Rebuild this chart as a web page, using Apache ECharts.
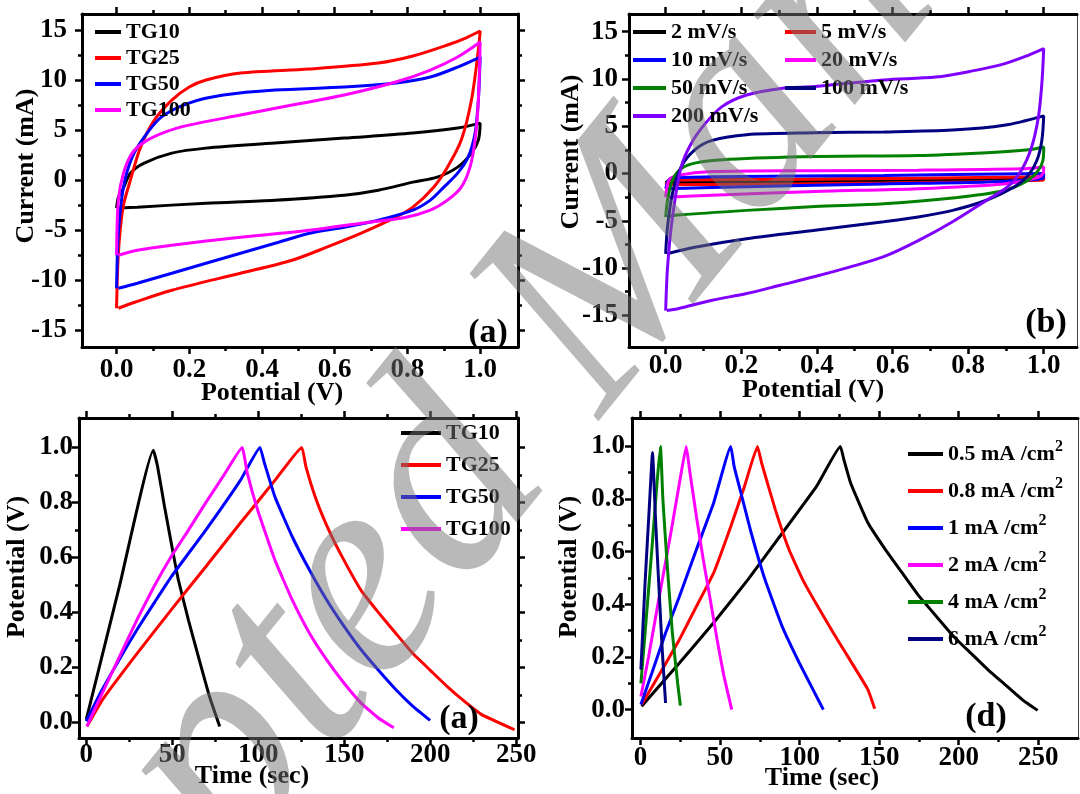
<!DOCTYPE html>
<html>
<head>
<meta charset="utf-8">
<title>CV and GCD curves</title>
<script src="https://cdn.jsdelivr.net/npm/echarts@6/dist/echarts.min.js"></script>
<style>
  html, body { margin: 0; padding: 0; background: #fff; }
  #chart { width: 1080px; height: 794px; }
</style>
</head>
<body>
<div id="chart"></div>
<script>
// (a) CV, TG samples : [potential (V), current (mA)], forward sweep then back
var cvTG10 = [[0,-2.8],[0.005,-1.7],[0.02,-0.7],[0.038,0.7],[0.076,1.7],[0.152,2.7],[0.246,3.2],[0.436,3.7],[0.626,4.2],[0.815,4.7],[0.938,5.2],[1.0,5.7],
  [0.995,4.0],[0.976,2.7],[0.938,1.3],[0.882,0.3],[0.815,-0.2],[0.72,-1.0],[0.626,-1.5],[0.436,-2.0],[0.246,-2.3],[0.057,-2.7],[0.005,-2.8]];
var cvTG25 = [[0,-12.8],[0.004,-8],[0.01,-5],[0.019,-2.5],[0.038,0],[0.066,3.3],[0.104,6],[0.152,8],[0.2,9.3],[0.246,10],[0.341,10.7],[0.53,11.1],[0.72,11.7],[0.815,12.4],[0.91,13.5],[0.96,14.2],[1.0,14.9],
  [0.995,13],[0.976,8],[0.948,4],[0.91,1.3],[0.872,-0.7],[0.815,-2.7],[0.768,-3.7],[0.673,-5.3],[0.578,-6.7],[0.483,-8],[0.341,-9.3],[0.152,-11],[0.05,-12.2],[0.005,-12.8]];
var cvTG50 = [[0,-10.8],[0.005,-5.3],[0.019,-0.7],[0.043,2.3],[0.076,4.3],[0.123,6.3],[0.199,7.7],[0.294,8.5],[0.436,9.0],[0.626,9.3],[0.768,9.7],[0.863,10.3],[0.938,11.3],[1.0,12.3],
  [0.995,8],[0.986,4.7],[0.967,2.3],[0.938,0.7],[0.9,-0.7],[0.863,-2],[0.815,-3],[0.72,-4],[0.626,-4.7],[0.531,-5.3],[0.436,-6.3],[0.341,-7.3],[0.246,-8.3],[0.152,-9.3],[0.057,-10.3],[0.005,-10.8]];
var cvTG100 = [[0,-7.5],[0.005,-2],[0.019,0.7],[0.043,2.7],[0.076,3.8],[0.133,4.8],[0.199,5.5],[0.341,6.5],[0.483,7.5],[0.626,8.5],[0.768,9.8],[0.863,11],[0.938,12.3],[1.0,13.8],
  [0.995,8],[0.986,4],[0.972,1.3],[0.948,-0.7],[0.91,-2],[0.863,-3],[0.796,-3.7],[0.673,-4.3],[0.531,-5],[0.341,-5.7],[0.152,-6.5],[0.057,-7],[0.005,-7.5]];

// (b) CV at different scan rates
var cv2 = [[0,-1.0],[0.014,-0.7],[1.0,-0.5],[0.998,-0.65],[0.003,-1.0]];
var cv5 = [[0,-1.2],[0.014,-0.7],[0.395,-0.6],[1.0,-0.35],[0.998,-0.7],[0.577,-1.0],[0.003,-1.2]];
var cv10 = [[0,-1.6],[0.014,-0.5],[0.123,-0.35],[0.577,-0.2],[1.0,0],[0.998,-0.5],[0.85,-0.9],[0.577,-1.1],[0.214,-1.4],[0.003,-1.6]];
var cv20 = [[0,-2.5],[0.009,-0.7],[0.032,-0.2],[0.123,0.2],[0.395,0.3],[0.668,0.35],[0.941,0.5],[1.0,0.7],
  [0.998,0],[0.977,-0.5],[0.895,-1.1],[0.668,-1.6],[0.395,-1.9],[0.123,-2.3],[0.003,-2.5]];
var cv50 = [[0,-4.6],[0.005,-2.8],[0.018,-0.7],[0.041,0.5],[0.077,1.1],[0.168,1.5],[0.395,1.8],[0.668,1.9],[0.85,2.2],[0.959,2.5],[1.0,2.8],
  [0.998,1.4],[0.986,0.35],[0.959,-0.7],[0.895,-1.8],[0.759,-2.6],[0.577,-3.2],[0.395,-3.5],[0.214,-3.9],[0.032,-4.4],[0.003,-4.6]];
var cv100 = [[0,-8.5],[0.005,-5.6],[0.018,-2.1],[0.041,0.7],[0.077,2.5],[0.123,3.5],[0.214,4.1],[0.395,4.3],[0.577,4.4],[0.759,4.6],[0.895,5.1],[1.0,6.1],
  [0.995,3.5],[0.982,1.4],[0.959,-0.2],[0.923,-1.4],[0.85,-2.8],[0.759,-3.9],[0.668,-4.6],[0.577,-5.1],[0.395,-6.0],[0.214,-6.9],[0.077,-7.8],[0.003,-8.5]];
var cv200 = [[0,-14.5],[0.005,-9.9],[0.018,-4.6],[0.041,0.7],[0.068,3.2],[0.105,5.3],[0.15,7.1],[0.214,8.3],[0.305,9.0],[0.395,9.2],[0.577,9.9],[0.714,10.2],[0.805,10.8],[0.895,11.6],[0.959,12.5],[1.0,13.2],
  [0.995,9.5],[0.986,6],[0.968,2.8],[0.941,0.35],[0.905,-1.4],[0.85,-2.8],[0.759,-5.1],[0.668,-7.1],[0.577,-8.8],[0.486,-9.9],[0.395,-10.9],[0.305,-11.8],[0.214,-12.7],[0.123,-13.4],[0.032,-14.3],[0.003,-14.5]];

// (c) charge-discharge, TG samples : [time (s), potential (V)]
var gcdTG10 = [[0,0.01],[19.5,0.5],[39,0.99],[41.5,0.93],[45.5,0.785],[49.5,0.65],[53.5,0.52],[59.5,0.37],[65.6,0.23],[71.6,0.095],[77.6,-0.015]];
var gcdTG25 = [[0.4,-0.015],[9.4,0.082],[29.5,0.25],[49.5,0.41],[69.6,0.567],[89.6,0.725],[109.7,0.88],[125.3,1.0],[127.7,0.93],[133.7,0.81],[141.7,0.69],[149.8,0.59],[159.8,0.48],[169.8,0.4],[179.8,0.325],[189.9,0.25],[199.9,0.19],[209.9,0.13],[219.9,0.076],[229.9,0.028],[249,-0.027]];
var gcdTG50 = [[0,0.004],[9.4,0.12],[29.5,0.337],[49.5,0.53],[69.6,0.7],[89.6,0.88],[101,1.0],[103.6,0.943],[109.7,0.82],[119.7,0.676],[129.7,0.555],[139.7,0.446],[149.8,0.35],[159.8,0.264],[169.8,0.19],[179.8,0.12],[189.9,0.058],[199.9,0.007]];
var gcdTG100 = [[0.4,-0.015],[9.4,0.107],[19.4,0.24],[29.5,0.373],[39.5,0.495],[49.5,0.604],[59.5,0.7],[69.6,0.8],[79.6,0.895],[90.6,1.0],[93.6,0.907],[99.6,0.773],[109.7,0.59],[119.7,0.446],[129.7,0.325],[139.7,0.228],[149.8,0.143],[159.8,0.07],[169.8,0.016],[178.8,-0.02]];

// (d) charge-discharge at different current densities
var gcd05 = [[0.65,0.013],[24.4,0.177],[45.9,0.33],[67.5,0.494],[89,0.67],[110.6,0.848],[125.6,1.0],[127.8,0.95],[132.1,0.86],[142.9,0.71],[153.7,0.61],[164.4,0.52],[175.2,0.43],[186,0.354],[196.8,0.278],[207.5,0.215],[218.3,0.152],[229.1,0.095],[239.9,0.038],[249.6,-0.003]];
var gcd08 = [[0.65,0.019],[13.6,0.152],[24.4,0.266],[35.1,0.392],[45.9,0.519],[56.7,0.696],[65.3,0.848],[73.5,1.0],[76.1,0.937],[84.7,0.76],[93.3,0.608],[101.9,0.494],[110.6,0.4],[121.3,0.29],[132.1,0.184],[142.9,0.076],[147.2,0.003]];
var gcd1 = [[0.2,0.019],[7.1,0.139],[15.7,0.291],[24.4,0.43],[35.1,0.608],[45.9,0.785],[56.7,1.0],[58.8,0.924],[63.1,0.823],[69.6,0.67],[78.2,0.494],[89,0.316],[99.8,0.177],[108.4,0.076],[114.9,0.0]];
var gcd2 = [[0.2,0.05],[5,0.2],[11.4,0.418],[17.9,0.633],[24.4,0.86],[28.7,1.0],[30.8,0.91],[35.1,0.734],[39.4,0.57],[43.8,0.418],[48.1,0.266],[52.4,0.127],[57.3,0.0]];
var gcd4 = [[0.2,0.1],[2.8,0.29],[7.1,0.61],[10.3,0.86],[12.5,1.0],[14,0.8],[16.8,0.544],[20,0.29],[23.3,0.1],[25,0.015]];
var gcd6 = [[0.2,0.152],[2.8,0.48],[5.4,0.76],[7.5,0.977],[9.3,0.734],[11.4,0.48],[13.6,0.228],[15.7,0.025]];

// legend names
var tgNames = ['TG10', 'TG25', 'TG50', 'TG100'];
var rateNames = ['2 mV/s', '5 mV/s', '10 mV/s', '20 mV/s', '50 mV/s', '100 mV/s', '200 mV/s'];
var densityNames = ['0.5 mA /cm2', '0.8 mA /cm2', '1 mA /cm2', '2 mA /cm2', '4 mA /cm2', '6 mA /cm2'];

// ticks
var cvXMajor = [0, 0.2, 0.4, 0.6, 0.8, 1.0];
var cvXMinor = [0.1, 0.3, 0.5, 0.7, 0.9];
var cvYMajor = [-15, -10, -5, 0, 5, 10, 15];
var cvYMinor = [-12.5, -7.5, -2.5, 2.5, 7.5, 12.5];
var tXMajor = [0, 50, 100, 150, 200, 250];
var tXMinor = [25, 75, 125, 175, 225];
var vYMajor = [0, 0.2, 0.4, 0.6, 0.8, 1.0];
var vYMinor = [0.1, 0.3, 0.5, 0.7, 0.9];

var FONT = '"Liberation Serif", "Times New Roman", serif';
var xAxes = [], yAxes = [], series = [];

function fixed1(v) { return v.toFixed(1); }
function plain(v) { return String(v); }

// four axes per direction: main, minor ticks, opposite main, opposite minor
function addFrame(gi, xr, yr, xMaj, xMin, yMaj, yMin, xFmt, yFmt, xMargin, yMargin, thinRight) {
  var thick = {show: true, onZero: false, lineStyle: {color: '#000', width: 3}};
  var thin = {show: true, onZero: false, lineStyle: {color: '#444', width: 1}};
  var none = {show: false, onZero: false};
  var lab = {color: '#000', fontFamily: FONT, fontWeight: 'bold', fontSize: 27};
  function tick(vals, len) {
    return {show: true, customValues: vals, length: len, lineStyle: {color: '#000', width: 2.5}};
  }
  function ax(pos, range, line, tk, label) {
    return {type: 'value', gridIndex: gi, position: pos, min: range[0], max: range[1],
      axisLine: line, axisTick: tk, axisLabel: label || {show: false}, splitLine: {show: false}};
  }
  xAxes.push(ax('bottom', xr, thick, tick(xMaj, 7), Object.assign({customValues: xMaj, margin: xMargin, formatter: xFmt}, lab)));
  xAxes.push(ax('bottom', xr, none, tick(xMin, 4)));
  xAxes.push(ax('top', xr, thick, tick(xMaj, 7)));
  xAxes.push(ax('top', xr, none, tick(xMin, 4)));
  yAxes.push(ax('left', yr, thick, tick(yMaj, 7), Object.assign({customValues: yMaj, margin: yMargin, formatter: yFmt}, lab)));
  yAxes.push(ax('left', yr, none, tick(yMin, 4)));
  yAxes.push(ax('right', yr, thinRight ? thin : thick, thinRight ? {show: false} : tick(yMaj, 7)));
  yAxes.push(ax('right', yr, none, thinRight ? {show: false} : tick(yMin, 4)));
}

function addLine(gi, name, color, data, smooth) {
  series.push({type: 'line', name: name, xAxisIndex: gi * 4, yAxisIndex: gi * 4, data: data,
    showSymbol: false, symbol: 'none', smooth: smooth,
    lineStyle: {color: color, width: 3}, itemStyle: {color: color}});
}

function legendAt(names, left, top, iconW, gap, sup) {
  var lg = {data: names, orient: 'vertical', left: left, top: top, padding: 0,
    itemWidth: iconW, itemHeight: 4, itemGap: gap, icon: 'rect', selectedMode: false,
    textStyle: {fontFamily: FONT, fontWeight: 'bold', fontSize: 22, lineHeight: 22, color: '#000'}};
  if (sup) {
    // "cm2" with a raised 2
    lg.formatter = function (n) { return '{n|' + n.slice(0, -1) + '}{s|2}'; };
    lg.textStyle.rich = {
      n: {fontFamily: FONT, fontWeight: 'bold', fontSize: 22, lineHeight: 22, color: '#000'},
      s: {fontFamily: FONT, fontWeight: 'bold', fontSize: 16, lineHeight: 16, color: '#000', verticalAlign: 'top', padding: [-4, 0, 0, 0]}
    };
  }
  return lg;
}

function txt(text, x, y, size, rot) {
  return {type: 'text', x: x, y: y, rotation: rot || 0, z: 10,
    style: {text: text, fill: '#000', font: 'bold ' + size + 'px ' + FONT,
      align: 'center', verticalAlign: 'middle', textAlign: 'center', textVerticalAlign: 'middle'}};
}

addFrame(0, [-0.095, 1.104], [-16.67, 16.6], cvXMajor, cvXMinor, cvYMajor, cvYMinor, fixed1, plain, 10, 15, false);
addFrame(1, [-0.097, 1.088], [-18.35, 16.87], cvXMajor, cvXMinor, cvYMajor, cvYMinor, fixed1, plain, 6, 11, true);
addFrame(2, [-4.2, 251], [-0.057, 1.107], tXMajor, tXMinor, vYMajor, vYMinor, plain, fixed1, 4, 6, false);
addFrame(3, [-5.4, 275], [-0.108, 1.108], tXMajor, tXMinor, vYMajor, vYMinor, plain, fixed1, 7, 7, true);

var cvColors = ['#000000', '#ff0000', '#0000ff', '#ff00ff'];
[cvTG10, cvTG25, cvTG50, cvTG100].forEach(function (d, i) { addLine(0, tgNames[i], cvColors[i], d, 0.3); });

var rateColors = ['#000000', '#ff0000', '#0000ff', '#ff00ff', '#008000', '#000080', '#8000ff'];
[cv2, cv5, cv10, cv20, cv50, cv100, cv200].forEach(function (d, i) { addLine(1, rateNames[i], rateColors[i], d, 0.3); });

[gcdTG10, gcdTG25, gcdTG50, gcdTG100].forEach(function (d, i) { addLine(2, tgNames[i], cvColors[i], d, 0.12); });

var densityColors = ['#000000', '#ff0000', '#0000ff', '#ff00ff', '#008000', '#000080'];
[gcd05, gcd08, gcd1, gcd2, gcd4, gcd6].forEach(function (d, i) { addLine(3, densityNames[i], densityColors[i], d, 0.12); });

var chart = echarts.init(document.getElementById('chart'));
chart.setOption({
  animation: false,
  backgroundColor: '#fff',
  grid: [
    {left: 82, top: 14, width: 436, height: 333},
    {left: 629, top: 14, width: 448, height: 333},
    {left: 79, top: 418, width: 439, height: 320},
    {left: 632, top: 418, width: 446, height: 320}
  ],
  xAxis: xAxes,
  yAxis: yAxes,
  legend: [
    legendAt(tgNames, 95, 21, 26, 4),
    legendAt(['2 mV/s', '10 mV/s', '50 mV/s', '200 mV/s'], 633, 21, 33, 6),
    legendAt(['5 mV/s', '20 mV/s', '100 mV/s'], 785, 21, 31, 6),
    legendAt(tgNames, 401, 422, 40, 10),
    legendAt(densityNames, 908, 439, 35, 11, true)
  ],
  graphic: [
    txt('Current (mA)', 26, 166, 26, Math.PI / 2),
    txt('Potential (V)', 272, 393, 26),
    txt('(a)', 488, 333, 34),
    txt('Current (mA)', 571, 152, 26, Math.PI / 2),
    txt('Potential (V)', 813, 390, 26),
    txt('(b)', 1046, 323, 34),
    txt('Potential (V)', 17, 567, 26, Math.PI / 2),
    txt('Time (sec)', 252, 776, 26),
    txt('(a)', 459, 719, 34),
    txt('Potential (V)', 569, 567, 26, Math.PI / 2),
    txt('Time (sec)', 822, 778, 26),
    txt('(d)', 986, 717, 34),
    // diagonal watermark over the figure
    {type: 'text', x: 605, y: 290, rotation: 51 * Math.PI / 180, z: 20,
      style: {text: 'Accepted Manuscript', fill: 'rgba(115,115,115,0.5)',
        font: 'italic 295px ' + FONT, align: 'center', verticalAlign: 'middle',
        textAlign: 'center', textVerticalAlign: 'middle'}}
  ],
  series: series
});
</script>
</body>
</html>
